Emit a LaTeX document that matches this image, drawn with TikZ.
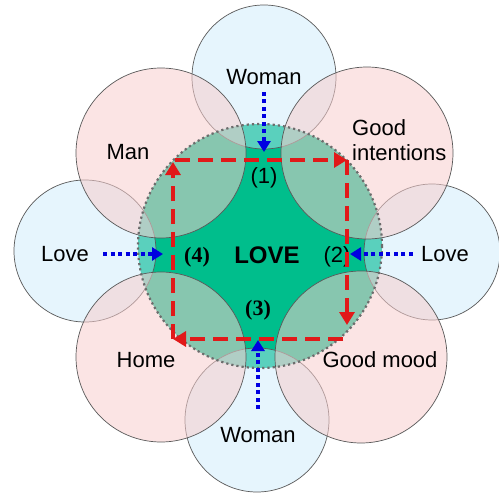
\documentclass[tikz,border=0pt]{standalone}
\usepackage{fontspec}
\setmainfont{Liberation Sans}
\newfontfamily\numfont{Liberation Serif}
\usepackage{xcolor}
\usepackage{tikz}
\usetikzlibrary{arrows.meta, positioning}

\definecolor{coregreen}{RGB}{0,190,140}
\definecolor{softpink}{RGB}{247,205,205}
\definecolor{softblue}{RGB}{200,232,250}
\definecolor{loopred}{RGB}{225,25,25}
\definecolor{pointblue}{RGB}{0,0,225}

\tikzset{
    ring/.style={circle, draw=black!65, line width=0.7pt, inner sep=0pt},
    pinkring/.style={ring, fill=softpink, fill opacity=0.55},
    bluering/.style={ring, fill=softblue, fill opacity=0.45},
    word/.style={font=\fontsize{22}{25}\selectfont, inner sep=1pt},
    stepno/.style={font=\fontsize{22}{24}\selectfont, inner sep=1pt},
    loop/.style={draw=loopred, line width=4.5pt, dash pattern=on 15pt off 8pt,
        -{Triangle[length=13pt, width=15pt]}},
    pointer/.style={draw=pointblue, line width=4pt, dash pattern=on 4pt off 3.5pt,
        -{Triangle[length=11pt, width=13pt]}}
}

\begin{document}
\begin{tikzpicture}[x=1pt, y=-1pt]
    \useasboundingbox (0,0) rectangle (499,493);

    % Core circle
    \node[circle, fill=coregreen, inner sep=0pt, minimum size=244pt] (core) at (260,246) {};

    % Outer circles
    \node[bluering, minimum size=144pt] (woman_top) at (264,77) {};
    \node[bluering, minimum size=144pt] (woman_bot) at (257,420) {};
    \node[bluering, minimum size=142pt] (love_left) at (85,251) {};
    \node[bluering, minimum size=136pt] (love_right) at (432,252) {};
    \node[pinkring, minimum size=170pt] (man) at (161,153) {};
    \node[pinkring, minimum size=172pt] (good_int) at (367,153) {};
    \node[pinkring, minimum size=170pt] (home) at (161,357) {};
    \node[pinkring, minimum size=172pt] (good_mood) at (361,357) {};

    % Dotted edge of the core
    \draw[gray!85!black, line width=2.2pt, dash pattern=on 2.2pt off 3pt] (core.center) circle[radius=122pt];

    % Labels
    \node[word] (lbl_wtop) at (264,77) {Woman};
    \node[word] (lbl_wbot) at (258,435) {Woman};
    \node[word] (lbl_lleft) at (65,254) {Love};
    \node[word] (lbl_lright) at (445,254) {Love};
    \node[word] (lbl_man) at (128,152) {Man};
    \node[word, align=left, anchor=west] (lbl_gint) at (351,140) {Good\\intentions};
    \node[word] (lbl_home) at (146,360) {Home};
    \node[word] (lbl_gmood) at (380,360) {Good mood};
    \node[font=\fontsize{24}{26}\selectfont\bfseries] (lbl_core) at (267,255) {LOVE};

    % Steps
    \node[stepno] (step_1) at (264,178) {(1)};
    \node[stepno] (step_2) at (337,257) {(2)};
    \node[stepno, font=\fontsize{22}{24}\numfont\bfseries] (step_3) at (258,310) {(3)};
    \node[stepno, font=\fontsize{22}{24}\numfont\bfseries] (step_4) at (197,257) {(4)};

    % Red loop
    \coordinate (r_tl) at (173,160);
    \coordinate (r_tr) at (347,160);
    \coordinate (r_br) at (347,339);
    \coordinate (r_bl) at (173,339);
    \draw[loop, shorten <=2pt] (r_tl) -- (r_tr);
    \draw[loop, shorten >=14pt] (r_tr) -- (r_br);
    \draw[loop, shorten <=4pt] (r_br) -- (r_bl);
    \draw[loop, shorten >=2pt] (r_bl) -- (r_tl);

    % Blue pointers
    \coordinate (tip_1) at (264,152);
    \coordinate (tip_2) at (350,254);
    \coordinate (tip_3) at (258,340);
    \coordinate (tip_4) at (163,254);
    \draw[pointer, shorten <=6pt] (lbl_wtop) -- (tip_1);
    \draw[pointer, shorten <=7pt] (lbl_lright) -- (tip_2);
    \draw[pointer, shorten <=17pt] (lbl_wbot) -- (tip_3);
    \draw[pointer, shorten <=13pt] (lbl_lleft) -- (tip_4);
\end{tikzpicture}
\end{document}
